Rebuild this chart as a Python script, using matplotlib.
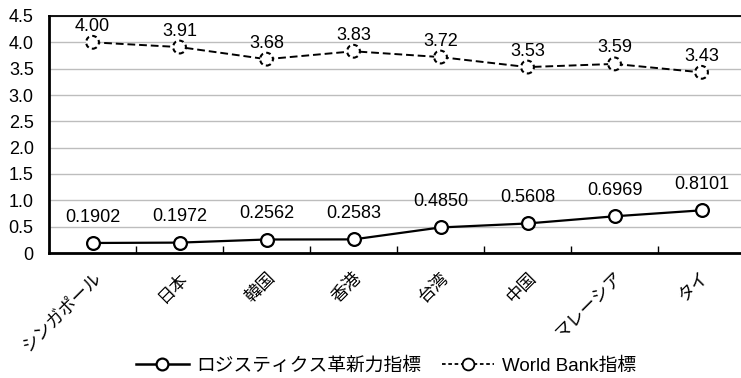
import matplotlib.pyplot as plt
from matplotlib.lines import Line2D

plt.rcParams['font.family'] = ['Liberation Sans', 'Noto Sans CJK JP']

countries = ['シンガポール', '日本', '韓国', '香港', '台湾', '中国', 'マレーシア', 'タイ']
innovation = [0.1902, 0.1972, 0.2562, 0.2583, 0.4850, 0.5608, 0.6969, 0.8101]
worldbank = [4.00, 3.91, 3.68, 3.83, 3.72, 3.53, 3.59, 3.43]
yticks = [0, 0.5, 1.0, 1.5, 2.0, 2.5, 3.0, 3.5, 4.0, 4.5]
ytick_labels = ['0', '0.5', '1.0', '1.5', '2.0', '2.5', '3.0', '3.5', '4.0', '4.5']

fig = plt.figure(figsize=(7.41, 3.78), dpi=100)
ax = fig.add_axes([49 / 741, 125 / 378, 696 / 741, 237 / 378])

x = list(range(len(countries)))

# ロジスティクス革新力指標（実線）
ax.plot(x, innovation, color='black', lw=1.6, zorder=3)
ax.scatter(x, innovation, s=85, facecolor='white', edgecolor='black',
           linewidths=1.6, zorder=4)

# World Bank 指標（破線、マーカーも破線）
ax.plot(x, worldbank, color='black', lw=1.4, ls=(0, (4, 2)), zorder=3)
ax.scatter(x, worldbank, s=85, facecolor='white', edgecolor='black',
           linewidths=1.5, linestyles=(0, (2.2, 1.6)), zorder=4)

for xi, v in zip(x, innovation):
    ax.annotate(f'{v:.4f}', (xi, v), xytext=(0, 18.5), textcoords='offset points',
                ha='center', va='center', fontsize=13)
for xi, v in zip(x, worldbank):
    ax.annotate(f'{v:.2f}', (xi, v), xytext=(0, 11.5), textcoords='offset points',
                ha='center', va='center', fontsize=13)

ax.set_xlim(-0.5, len(countries) - 0.5)
ax.set_ylim(0, 4.5)
ax.set_yticks(yticks)
ax.set_yticklabels(ytick_labels, fontsize=13)
ax.tick_params(axis='y', length=0, pad=11)
ax.yaxis.grid(True, color='#bdbdbd', lw=1.0)
ax.set_axisbelow(True)

# 区切り目盛（カテゴリ間、内向き）
ax.set_xticks([i + 0.5 for i in x[:-1]], minor=True)
ax.tick_params(axis='x', which='minor', direction='in', length=5, width=1)
ax.set_xticks(x)
ax.set_xticklabels(countries, rotation=45, ha='right', rotation_mode='anchor',
                   fontsize=12.5)
ax.tick_params(axis='x', which='major', length=0, pad=12)

for side in ['left', 'bottom']:
    ax.spines[side].set_linewidth(2)
ax.spines['top'].set_linewidth(1.3)
ax.spines['right'].set_visible(False)

handles = [
    Line2D([], [], color='black', lw=1.8, marker='o', markersize=8.5,
           markerfacecolor='white', markeredgewidth=1.6),
    Line2D([], [], color='black', lw=1.3, ls=(0, (2, 1.5)), marker='o', markersize=8.5,
           markerfacecolor='white', markeredgewidth=1.3),
]
fig.legend(handles, ['ロジスティクス革新力指標', 'World Bank指標'],
           loc='center', bbox_to_anchor=(386 / 741, 1 - 366 / 378), ncol=2,
           frameon=False, fontsize=13.5, handlelength=2.8, columnspacing=1.1,
           handletextpad=0.4, borderpad=0)

fig.savefig('out.png', dpi=100)
